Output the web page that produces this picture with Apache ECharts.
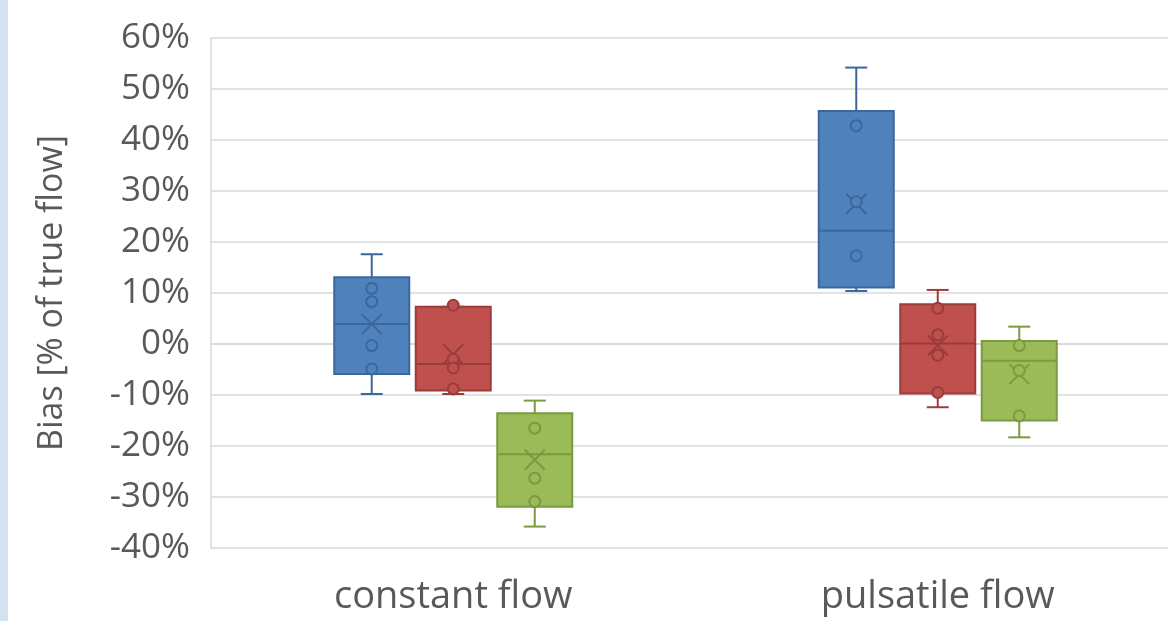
<!DOCTYPE html>
<html>
<head>
<meta charset="utf-8">
<script src="https://cdn.jsdelivr.net/npm/echarts@6/dist/echarts.min.js"></script>
<style>
html,body{margin:0;padding:0;background:#fff;overflow:hidden;}
#chart{width:1190px;height:621px;}
</style>
</head>
<body>
<div id="chart"></div>
<script>
const categories = ['constant flow', 'pulsatile flow'];
const yTicks = { min: -40, max: 60, interval: 10 };
const yTitle = 'Bias [% of true flow]';

// [min, q1, median, q3, max] per category
const blueStats = [[-9.8, -5.9, 3.9, 13.1, 17.6], [10.4, 11.1, 22.2, 45.7, 54.2]];
const blueMeans = [3.9, 27.5];
const bluePoints = [[10.9, 8.3, -0.3, -4.9], [42.8, 27.9, 17.3]];

const redStats = [[-9.8, -9.1, -3.9, 7.3, 7.3], [-12.4, -9.7, 0.1, 7.8, 10.6]];
const redMeans = [-2.0, -0.3];
const redPoints = [[7.6, -3.0, -4.7, -8.8], [7.0, 1.8, -2.2, -9.5]];

const greenStats = [[-35.8, -31.9, -21.6, -13.6, -11.1], [-18.3, -15.0, -3.3, 0.6, 3.4]];
const greenMeans = [-22.7, -5.9];
const greenPoints = [[-16.5, -26.3, -30.9], [-0.3, -5.2, -14.1]];

const groups = [
  { stats: blueStats, means: blueMeans, points: bluePoints, fill: '#4F81BD', stroke: '#3B679C' },
  { stats: redStats, means: redMeans, points: redPoints, fill: '#C0504D', stroke: '#9A3D3A' },
  { stats: greenStats, means: greenMeans, points: greenPoints, fill: '#9BBB59', stroke: '#7B9A3F' }
];

const SPACING = 81.5;
const BOX_W = 75;
const CAP_W = 22;
const LW = 2;
const FONT = '"Open Sans", sans-serif';

function boxRenderer(gi) {
  const g = groups[gi];
  return function (params, api) {
    const cat = api.value(0);
    const cx = api.coord([cat, 0])[0] + (gi - 1) * SPACING;
    const y = v => api.coord([cat, v])[1];
    const yMin = y(api.value(1)), yQ1 = y(api.value(2)), yMed = y(api.value(3)),
          yQ3 = y(api.value(4)), yMax = y(api.value(5)), yMean = y(api.value(6));
    const ls = { stroke: g.stroke, lineWidth: LW };
    const half = BOX_W / 2, ch = CAP_W / 2, xs = 10;
    return {
      type: 'group',
      children: [
        { type: 'line', shape: { x1: cx, y1: yQ3, x2: cx, y2: yMax }, style: ls },
        { type: 'line', shape: { x1: cx - ch, y1: yMax, x2: cx + ch, y2: yMax }, style: ls },
        { type: 'line', shape: { x1: cx, y1: yQ1, x2: cx, y2: yMin }, style: ls },
        { type: 'line', shape: { x1: cx - ch, y1: yMin, x2: cx + ch, y2: yMin }, style: ls },
        { type: 'rect', shape: { x: cx - half, y: yQ3, width: BOX_W, height: yQ1 - yQ3 },
          style: { fill: g.fill, stroke: g.stroke, lineWidth: LW } },
        { type: 'line', shape: { x1: cx - half, y1: yMed, x2: cx + half, y2: yMed }, style: ls },
        { type: 'line', shape: { x1: cx - xs, y1: yMean - xs, x2: cx + xs, y2: yMean + xs }, style: ls },
        { type: 'line', shape: { x1: cx - xs, y1: yMean + xs, x2: cx + xs, y2: yMean - xs }, style: ls }
      ]
    };
  };
}

function pointRenderer(gi) {
  const g = groups[gi];
  return function (params, api) {
    const cat = api.value(0);
    const p = api.coord([cat, api.value(1)]);
    return {
      type: 'circle',
      shape: { cx: p[0] + (gi - 1) * SPACING, cy: p[1], r: 5.5 },
      style: { fill: g.fill, stroke: g.stroke, lineWidth: LW }
    };
  };
}

const series = [];
groups.forEach((g, gi) => {
  series.push({
    type: 'custom',
    renderItem: boxRenderer(gi),
    encode: { x: 0, y: [1, 2, 3, 4, 5, 6] },
    data: g.stats.map((s, ci) => [ci].concat(s).concat([g.means[ci]])),
    silent: true,
    z: 2
  });
});
groups.forEach((g, gi) => {
  const data = [];
  g.points.forEach((arr, ci) => arr.forEach(v => data.push([ci, v])));
  series.push({
    type: 'custom',
    renderItem: pointRenderer(gi),
    encode: { x: 0, y: 1 },
    data: data,
    silent: true,
    z: 3
  });
});

const chart = echarts.init(document.getElementById('chart'), null, { renderer: 'canvas' });
chart.setOption({
  animation: false,
  backgroundColor: '#ffffff',
  graphic: [{ type: 'rect', left: 0, top: 0, shape: { width: 8, height: 621 }, style: { fill: '#D3E2F3' } }],
  grid: { left: 211, top: 38, width: 969, height: 510 },
  xAxis: {
    type: 'category',
    data: categories,
    axisLine: { show: true, lineStyle: { color: '#D9D9D9', width: 1.5 } },
    axisTick: { show: false },
    axisLabel: { color: '#595959', fontSize: 38, fontFamily: FONT, margin: 30 },
    splitLine: { show: false }
  },
  yAxis: {
    type: 'value',
    min: yTicks.min, max: yTicks.max, interval: yTicks.interval,
    name: yTitle,
    nameLocation: 'middle',
    nameGap: 142,
    nameTextStyle: { color: '#595959', fontSize: 34, fontFamily: FONT },
    axisLine: { show: true, lineStyle: { color: '#D9D9D9', width: 1.5 } },
    axisTick: { show: false },
    axisLabel: { color: '#595959', fontSize: 35, fontFamily: FONT, margin: 21, formatter: '{value}%' },
    splitLine: { show: true, lineStyle: { color: '#D9D9D9', width: 1.5 } }
  },
  series: series
});
</script>
</body>
</html>
